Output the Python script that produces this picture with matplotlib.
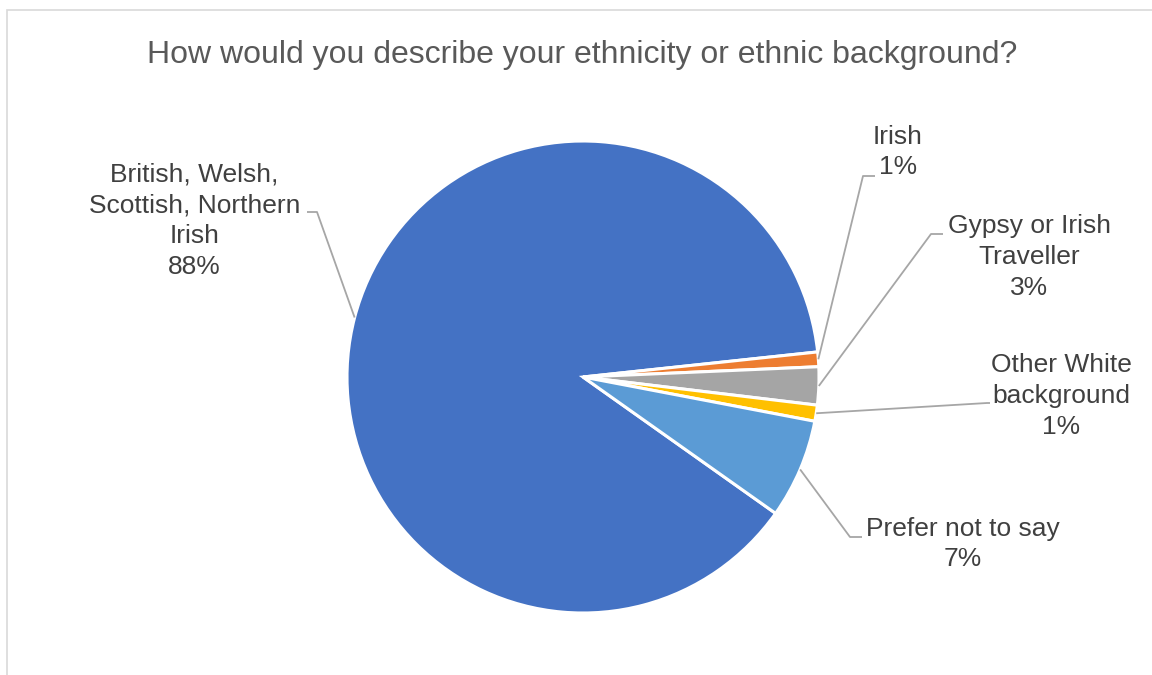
import numpy as np
import matplotlib
matplotlib.use("Agg")
import matplotlib.pyplot as plt
from matplotlib.patches import Rectangle

plt.rcParams['font.family'] = ['Liberation Sans', 'DejaVu Sans']

# ---- data ----
categories = ["British, Welsh,\nScottish, Northern\nIrish", "Irish", "Gypsy or Irish\nTraveller",
              "Other White\nbackground", "Prefer not to say"]
values = [88.5, 1.0, 2.6, 1.1, 6.8]
colors = ["#4472C4", "#ED7D31", "#A5A5A5", "#FFC000", "#5B9BD5"]
title = "How would you describe your ethnicity or ethnic background?"

W, H = 1152, 675
fig = plt.figure(figsize=(W / 100, H / 100), dpi=100)
ax = fig.add_axes([0, 0, 1, 1])

cx, cy, R = 583, H - 377, 236
start = -35.3
wedges, _ = ax.pie(values, colors=colors, startangle=start, counterclock=False,
                   center=(cx, cy), radius=R,
                   wedgeprops=dict(edgecolor="white", linewidth=2.2))
ax.set_xlim(0, W)
ax.set_ylim(0, H)
ax.set_aspect('auto')
ax.axis('off')

# chart border (Excel style)
ax.add_patch(Rectangle((6.5, -50), W + 100, (H - 9.5) + 50, fill=False,
                       edgecolor="#D9D9D9", linewidth=1.2, clip_on=False))

ax.text(582.5, H - 63, title, ha='center', va='baseline', fontsize=23, color="#595959")

total = sum(values)
# label layout (pixel coords from the top): text centre, elbow point, end of horizontal tick
layout = [
    ((194.5, 221), (317, 212), (307, 212)),
    ((898, 152), (863, 176), (875, 176)),
    ((1029, 257), (931, 234), (943, 234)),
    ((1061, 396), (987, 403), (990, 403)),
    ((963, 544), (850, 537), (862, 537)),
]
for w, cat, v, (tc, elbow, tick) in zip(wedges, categories, values, layout):
    mid = np.deg2rad((w.theta1 + w.theta2) / 2)
    px, py = cx + R * np.cos(mid), cy + R * np.sin(mid)
    ax.plot([px, elbow[0], tick[0]], [py, H - elbow[1], H - tick[1]],
            color="#A6A6A6", linewidth=1.3, solid_capstyle='butt')
    ax.text(tc[0], H - tc[1], f"{cat}\n{v / total * 100:.0f}%", ha='center', va='center',
            fontsize=19, color="#404040", linespacing=1.36)

fig.savefig("out.png", dpi=100)
